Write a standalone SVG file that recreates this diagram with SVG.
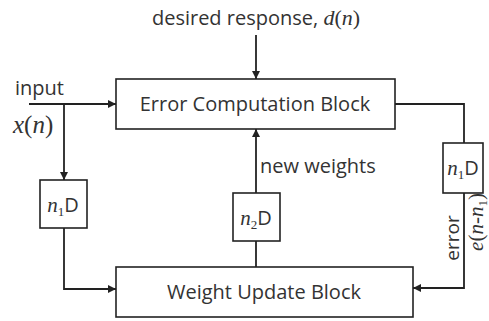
<svg xmlns="http://www.w3.org/2000/svg" width="489" height="321" viewBox="0 0 489 321">
  <style>
    .box { fill: #ffffff; stroke: #222; stroke-width: 1.6; }
    .wire { fill: none; stroke: #222; stroke-width: 1.8; }
    .sans { font-family: "Open Sans", "Liberation Sans", sans-serif; fill: #333; }
    .math { font-family: "Liberation Serif", "DejaVu Serif", serif; font-style: italic; fill: #333; }
    .rm { font-family: "Liberation Serif", "DejaVu Serif", serif; fill: #333; }
  </style>
  <defs>
    <marker id="arr" viewBox="0 0 10 10" refX="10" refY="5" markerWidth="8" markerHeight="8" markerUnits="userSpaceOnUse" orient="auto">
      <path d="M0,0 L10,5 L0,10 z" fill="#222"/>
    </marker>
  </defs>
  <rect width="489" height="321" fill="#ffffff"/>

  <!-- connectors -->
  <g id="connectors">
    <line class="wire" x1="256" y1="35" x2="256" y2="79" marker-end="url(#arr)"/>
    <line class="wire" x1="29" y1="104" x2="116" y2="104" marker-end="url(#arr)"/>
    <line class="wire" x1="64" y1="104" x2="64" y2="180" marker-end="url(#arr)"/>
    <polyline class="wire" points="64,228 64,289 116,289" marker-end="url(#arr)"/>
    <polyline class="wire" points="395,104 464,104 464,143"/>
    <polyline class="wire" points="464,193 464,288 413,288" marker-end="url(#arr)"/>
    <line class="wire" x1="256" y1="193" x2="256" y2="129" marker-end="url(#arr)"/>
    <line class="wire" x1="256" y1="241" x2="256" y2="267"/>
  </g>

  <!-- labels on connectors -->
  <text class="sans" x="256" y="25" font-size="20" text-anchor="middle">desired response, <tspan class="math" font-size="22">d</tspan><tspan class="rm" font-size="22">(</tspan><tspan class="math" font-size="22">n</tspan><tspan class="rm" font-size="22">)</tspan></text>
  <text class="sans" x="15" y="95" font-size="20">input</text>
  <text x="13" y="133" font-size="25"><tspan class="math">x</tspan><tspan class="rm">(</tspan><tspan class="math">n</tspan><tspan class="rm">)</tspan></text>
  <text class="sans" x="260" y="173" font-size="20">new weights</text>
  <text class="sans" x="0" y="0" font-size="19" text-anchor="middle" transform="translate(459,238) rotate(-90)">error</text>
  <text x="0" y="0" font-size="21" text-anchor="middle" transform="translate(483,222) rotate(-90)"><tspan class="math">e</tspan><tspan class="rm">(</tspan><tspan class="math">n</tspan><tspan class="rm">-</tspan><tspan class="math">n</tspan><tspan class="rm" font-size="13" dy="4">1</tspan><tspan class="rm" dy="-4">)</tspan></text>

  <g id="error-block">
    <rect class="box" x="116" y="79" width="279" height="50"/>
    <text class="sans" x="255" y="111" font-size="20" text-anchor="middle">Error Computation Block</text>
  </g>

  <g id="weight-block">
    <rect class="box" x="116" y="267" width="297" height="50"/>
    <text class="sans" x="264" y="299" font-size="20" text-anchor="middle">Weight Update Block</text>
  </g>

  <g id="delay-input">
    <rect class="box" x="40" y="180" width="47" height="48"/>
    <text x="63" y="212" font-size="21" text-anchor="middle"><tspan class="math">n</tspan><tspan class="rm" font-size="13" dy="4">1</tspan><tspan class="sans" font-size="20" dy="-4">D</tspan></text>
  </g>

  <g id="delay-weights">
    <rect class="box" x="233" y="193" width="47" height="48"/>
    <text x="256" y="225" font-size="21" text-anchor="middle"><tspan class="math">n</tspan><tspan class="rm" font-size="13" dy="4">2</tspan><tspan class="sans" font-size="20" dy="-4">D</tspan></text>
  </g>

  <g id="delay-error">
    <rect class="box" x="443" y="143" width="40" height="50"/>
    <text x="463" y="175" font-size="21" text-anchor="middle"><tspan class="math">n</tspan><tspan class="rm" font-size="13" dy="4">1</tspan><tspan class="sans" font-size="20" dy="-4">D</tspan></text>
  </g>
</svg>
